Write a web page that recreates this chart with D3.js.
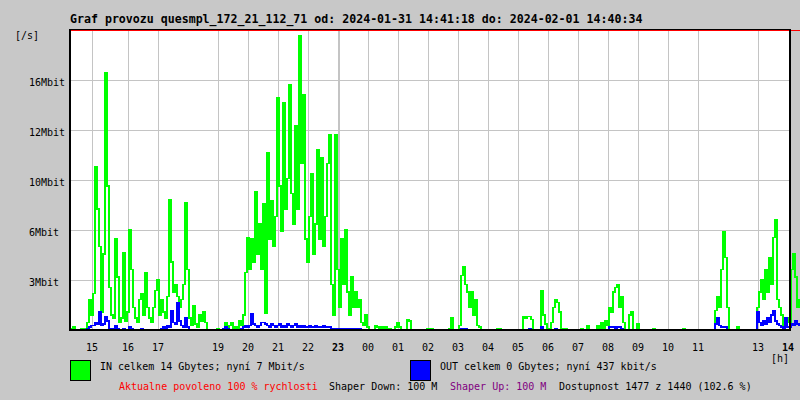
<!DOCTYPE html>
<html><head><meta charset="utf-8">
<script src="https://cdn.jsdelivr.net/npm/d3@7"></script>
<style>
body{margin:0;background:#c8c8c8}
svg{display:block}
text{font-family:"DejaVu Sans Mono",monospace;font-size:10px}
</style>
</head><body><svg id="c" width="800" height="400"></svg>
<script>
const titleText = "Graf provozu quesmpl_172_21_112_71 od: 2024-01-31 14:41:18 do: 2024-02-01 14:40:34";
const sampleMinutes = 4;
// IN traffic, Mbit/s, one value per 4 minutes from start
const inMbit = [
0.1,0,0.2,0,0,0,0.1,0,0.1,0.5,
2.0,1.0,2.4,10.8,8.0,5.5,1.2,5.0,17.0,9.5,
2.8,1.0,0.8,6.0,3.5,0.5,0.8,5.1,0.6,1.2,
6.6,4.0,1.5,0.8,0.5,2.0,2.4,1.0,3.8,1.5,
0.8,0.5,1.5,2.6,3.3,1.0,2.0,1.2,0.8,2.2,
8.6,4.5,2.5,3.0,2.2,1.5,2.0,3.0,8.4,4.0,
0.8,0.3,1.6,0.4,0.2,1.0,0.6,1.2,0.5,0,
0,0,0,0,0.1,0,0,0,0.5,0.2,
0.3,0.5,0.1,0.2,0.1,0.6,0.3,1.0,3.8,6.1,
4.0,6.0,4.5,9.1,5.0,7.0,4.0,8.3,1.1,11.7,
6.0,8.5,5.5,7.5,15.3,9.5,6.5,15.0,8.0,10.0,
16.2,9.0,7.0,13.5,8.0,19.4,11.0,15.5,6.0,4.5,
7.5,10.3,5.0,7.0,11.9,6.0,11.4,5.5,7.5,11.0,
12.9,3.0,1.0,12.9,4.0,1.5,6.0,3.0,6.6,2.5,
1.0,3.5,1.5,2.5,1.5,2.0,0.5,0.3,1.0,0.2,
0,0,0,0.3,0.2,0.1,0.2,0.1,0.2,0,
0.1,0,0,0.2,0.5,0.2,0,0,0,0.7,
0.6,0,0,0,0,0,0,0,0,0.1,
0.1,0.1,0,0,0,0,0,0,0,0,
0.1,0.8,0,0,0,0.3,3.6,4.2,3.0,2.5,
1.5,2.5,1.0,2.0,0.3,0.2,0,0,0,0,
0,0,0,0,0.1,0.1,0,0,0,0,
0,0,0,0,0,0,0,0.9,0.8,0.9,
0.9,0.7,0,0,0,0,2.6,1.0,0.4,0.1,
0,0.5,1.5,2.0,1.8,1.2,0,0.1,0.1,0,
0,0,0,0,0,0,0.1,0,0,0.3,
0,0,0,0,0.3,0,0.5,0.1,0.6,0.3,
1.5,1.2,2.5,2.8,3.0,1.5,2.2,0.5,0,0,
1.0,1.2,0,0,0.4,0,0,0,0,0,
0,0,0.1,0,0,0,0,0,0,0,
0,0,0,0,0,0,0,0.1,0,0,
0,0,0,0,0,0,0,0,0,0,
0,0,0,1.3,2.2,1.5,4.0,6.5,4.8,1.5,
0,0,0,0,0.2,0,0,0,0,0,
0,0,0,0,1.5,2.5,3.3,2.0,4.0,2.5,
4.8,3.0,6.1,7.3,2.0,1.5,1.0,0.2,0.5,0.8,
0.5,4.0,5.0,3.5,1.5,2.0
];
// OUT traffic, Mbit/s
const outMbit = [
0,0,0,0,0,0,0,0,0,0.1,
0.2,0.3,0.3,0.5,0.4,1.2,0.3,0.4,0.9,0.6,
0.1,0.1,0.1,0.3,0.1,0,0,0.1,0,0,
0.2,0.1,0,0,0,0,0.1,0,0,0,
0,0,0,0,0,0,0.1,0.2,0.1,0.3,
0.2,1.3,0.5,0.4,1.8,0.6,0.3,0.2,0.8,0.2,
0,0,0,0,0,0,0,0,0,0,
0,0,0,0,0,0,0,0.1,0.2,0.1,
0,0,0,0,0,0,0.1,0.2,0.3,0.2,
0.3,1.1,0.4,0.3,0.2,0.3,0.5,0.5,0.4,0.3,
0.2,0.4,0.3,0.2,0.3,0.4,0.2,0.3,0.2,0.4,
0.3,0.2,0.3,0.4,0.2,0.3,0.2,0.3,0.2,0.2,
0.3,0.2,0.2,0.3,0.2,0.2,0.2,0.3,0.2,0.2,
0.2,0.1,0.1,0.1,0.1,0.1,0.1,0.1,0.1,0.1,
0.1,0.1,0.1,0.1,0.1,0.1,0,0,0,0,
0,0,0,0,0,0,0,0,0,0,
0,0,0,0,0,0,0,0,0,0,
0,0,0,0,0,0,0,0,0,0,
0,0,0,0,0,0,0,0,0,0,
0,0,0,0,0,0,0.1,0.1,0.1,0,
0,0,0,0,0,0,0,0,0,0,
0,0,0,0,0,0,0,0,0,0,
0,0,0,0,0,0,0,0,0,0,
0.1,0,0,0,0,0,0.2,0,0,0,
0,0,0,0.1,0,0,0,0,0,0,
0,0,0,0,0,0,0,0,0,0,
0,0,0,0,0,0,0,0,0,0,
0.2,0.2,0.2,0.1,0.2,0.2,0.1,0,0,0,
0,0,0,0,0,0,0,0,0,0,
0,0,0,0,0,0,0,0,0,0,
0,0,0,0,0,0,0,0,0,0,
0,0,0,0,0,0,0,0,0,0,
0,0,0,0.4,0.8,0.3,0.2,0.2,0.2,0,
0,0,0,0,0,0,0,0,0,0,
0,0,0,0,1.2,0.5,0.3,0.6,0.4,0.8,
0.5,1.0,1.3,0.6,0.4,0.3,0.2,0,0.8,0.2,
0.2,0.4,0.3,0.6,0.4,0.3
];
const yTickValues = [3.3, 6.6, 9.9, 13.2, 16.5];
const yTickLabels = ["3Mbit","6Mbit","10Mbit","12Mbit","16Mbit"];
const hourLabels = ["15","16","17","19","20","21","22","23","00","01","02","03","04","05","06","07","08","09","10","11","13","14"];
const hourOffsets = [44,116,176,296,356,416,476,536,596,656,716,776,836,896,956,1016,1076,1136,1196,1256,1376,1436];
const boldHours = ["23","14"];
const legendRow1 = [
  {color:"#00ff00", text:"IN celkem 14 Gbytes; nyní 7 Mbit/s"},
  {color:"#0000ff", text:"OUT celkem 0 Gbytes; nyní 437 kbit/s"}
];
const legendRow2 = [
  {text:"Aktualne povoleno 100 % rychlosti", color:"#ff0000"},
  {text:"Shaper Down: 100 M", color:"#000000"},
  {text:"Shaper Up: 100 M", color:"#800080"},
  {text:"Dostupnost 1477 z 1440 (102.6 %)", color:"#000000"}
];

const svg = d3.select("#c");
const L = 70, R = 790, T = 30, B = 330;
const x = d3.scaleLinear().domain([0, 1440]).range([L, R]);
const y = d3.scaleLinear().domain([0, 19.8]).range([B, T]);

// background
svg.append("rect").attr("width",800).attr("height",400).attr("fill","#c8c8c8");
svg.append("rect").attr("x",L).attr("y",T).attr("width",R-L).attr("height",B-T).attr("fill","#ffffff");

// grid
const g = svg.append("g").attr("shape-rendering","crispEdges");
g.selectAll("line.h").data(yTickValues).join("line")
  .attr("x1",L).attr("x2",R)
  .attr("y1",d=>Math.round(y(d))+0.5).attr("y2",d=>Math.round(y(d))+0.5)
  .attr("stroke","#c4c4c4").attr("stroke-width",1);
const vt = hourOffsets.map((o,i)=>({o, lab:hourLabels[i]})).filter(d=>d.o < 1420);
g.selectAll("line.v").data(vt).join("line")
  .attr("x1",d=>Math.round(x(d.o))+(d.lab==="23"?1:0.5)).attr("x2",d=>Math.round(x(d.o))+(d.lab==="23"?1:0.5))
  .attr("y1",T+1).attr("y2",B)
  .attr("stroke","#c4c4c4").attr("stroke-width",d=>d.lab==="23"?2:1);

// data
const line = d3.line()
  .x((d,i)=>x(i*sampleMinutes))
  .y(d=>y(d))
  .curve(d3.curveStep);
svg.append("path").datum(inMbit).attr("d",line)
  .attr("fill","none").attr("stroke","#00ff00").attr("stroke-width",1.5).attr("shape-rendering","crispEdges");
svg.append("path").datum(outMbit).attr("d",line)
  .attr("fill","none").attr("stroke","#0000ff").attr("stroke-width",1.5).attr("shape-rendering","crispEdges");

// frame
const f = svg.append("g").attr("shape-rendering","crispEdges");
f.append("rect").attr("x",L-1).attr("y",T-1).attr("width",R-L+1).attr("height",1).attr("fill","#000");
f.append("rect").attr("x",L).attr("y",T).attr("width",800-L).attr("height",1).attr("fill","#ff0000");
f.append("rect").attr("x",L-1).attr("y",T-1).attr("width",2).attr("height",B-T+2).attr("fill","#000");
f.append("rect").attr("x",R-1).attr("y",T-1).attr("width",2).attr("height",B-T+2).attr("fill","#000");
f.append("rect").attr("x",L-1).attr("y",B-1).attr("width",R-L+2).attr("height",2).attr("fill","#000");

// title
svg.append("text").attr("x",70).attr("y",23).attr("font-weight","bold").style("font-size","11.6px").text(titleText);
svg.append("text").attr("x",15).attr("y",39).text("[/s]");

// y labels
svg.selectAll("text.yl").data(yTickValues).join("text")
  .attr("x",29).attr("y",d=>Math.round(y(d))+6).text((d,i)=>yTickLabels[i]);

// x labels
svg.selectAll("text.xl").data(hourOffsets).join("text")
  .attr("x",d=>x(d)).attr("y",351).attr("text-anchor","middle")
  .attr("font-weight",(d,i)=>boldHours.includes(hourLabels[i])?"bold":"normal")
  .text((d,i)=>hourLabels[i]);
svg.append("text").attr("x",771).attr("y",362).text("[h]");

// legend
const legX = [70, 410];
legendRow1.forEach((it,i)=>{
  svg.append("rect").attr("x",legX[i]+0.5).attr("y",360.5).attr("width",20).attr("height",20)
    .attr("fill",it.color).attr("stroke","#000").attr("stroke-width",1);
  svg.append("text").attr("x",legX[i]+30).attr("y",370).text(it.text);
});
const row2X = [119, 329, 450, 559];
legendRow2.forEach((it,i)=>{
  svg.append("text").attr("x",row2X[i]).attr("y",390).attr("fill",it.color).text(it.text);
});
</script></body></html>
